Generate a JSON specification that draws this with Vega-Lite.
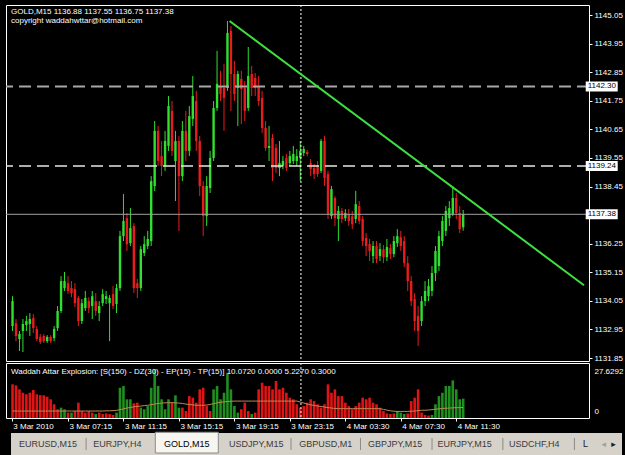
{
"$schema": "https://vega.github.io/schema/vega-lite/v6.json",
"background": "black",
"padding": {"left": 4, "top": 4, "right": 0, "bottom": 0},
"bounds": "flush",
"spacing": 2,
"config": {"view": {"stroke": null}, "font": "Liberation Sans",
  "axis": {"labelFont": "Liberation Sans", "labelFontSize": 8, "labelColor": "white", "tickColor": "white", "domain": false, "grid": false, "labelFlush": false, "labelOverlap": false, "labelBound": false}},
"datasets": {
"bars": [
{"i":0,"o":1133.08,"h":1134.23,"l":1132.89,"c":1134.04,"v":16.9,"t":"d","e":3.5},
{"i":1,"o":1133.19,"h":1133.35,"l":1132.50,"c":1132.70,"v":16.4,"t":"d","e":3.5},
{"i":2,"o":1132.58,"h":1132.89,"l":1132.12,"c":1132.77,"v":14.4,"t":"d","e":3.5},
{"i":3,"o":1132.89,"h":1133.35,"l":1132.08,"c":1133.16,"v":12.7,"t":"d","e":3.5},
{"i":4,"o":1133.12,"h":1133.47,"l":1132.89,"c":1133.27,"v":11.9,"t":"d","e":3.5},
{"i":5,"o":1133.16,"h":1133.58,"l":1132.70,"c":1133.35,"v":12.7,"t":"d","e":3.5},
{"i":6,"o":1133.39,"h":1133.54,"l":1132.81,"c":1133.00,"v":14.1,"t":"d","e":3.5},
{"i":7,"o":1132.97,"h":1133.08,"l":1132.50,"c":1132.58,"v":11.9,"t":"d","e":3.5},
{"i":8,"o":1132.66,"h":1132.77,"l":1132.39,"c":1132.47,"v":11.5,"t":"d","e":3.5},
{"i":9,"o":1132.70,"h":1132.77,"l":1132.43,"c":1132.50,"v":11.4,"t":"d","e":3.5},
{"i":10,"o":1132.50,"h":1132.73,"l":1132.43,"c":1132.66,"v":10.7,"t":"d","e":3.5},
{"i":11,"o":1132.66,"h":1132.73,"l":1132.43,"c":1132.50,"v":9.4,"t":"d","e":3.5},
{"i":12,"o":1132.62,"h":1133.08,"l":1132.50,"c":1132.97,"v":6.9,"t":"d","e":3.5},
{"i":13,"o":1133.00,"h":1133.85,"l":1132.89,"c":1133.66,"v":4.4,"t":"d","e":3.5},
{"i":14,"o":1133.66,"h":1135.00,"l":1133.58,"c":1134.81,"v":5.2,"t":"u","e":3.5},
{"i":15,"o":1134.54,"h":1135.16,"l":1134.43,"c":1134.81,"v":4.4,"t":"u","e":3.5},
{"i":16,"o":1134.73,"h":1135.00,"l":1134.31,"c":1134.43,"v":2.7,"t":"d","e":3.5},
{"i":17,"o":1134.54,"h":1134.81,"l":1134.19,"c":1134.35,"v":2.7,"t":"u","e":3.5},
{"i":18,"o":1134.50,"h":1134.73,"l":1133.81,"c":1133.96,"v":3.5,"t":"d","e":3.5},
{"i":19,"o":1134.16,"h":1134.23,"l":1133.08,"c":1133.27,"v":7.7,"t":"d","e":3.5},
{"i":20,"o":1133.27,"h":1134.12,"l":1133.16,"c":1133.96,"v":3.5,"t":"d","e":3.5},
{"i":21,"o":1133.77,"h":1134.43,"l":1133.66,"c":1134.16,"v":2.7,"t":"d","e":3.5},
{"i":22,"o":1134.04,"h":1134.19,"l":1133.58,"c":1133.77,"v":3.5,"t":"d","e":3.5},
{"i":23,"o":1133.85,"h":1134.43,"l":1133.35,"c":1134.23,"v":2.7,"t":"d","e":3.5},
{"i":24,"o":1134.04,"h":1134.35,"l":1133.47,"c":1133.66,"v":2.0,"t":"u","e":3.5},
{"i":25,"o":1133.58,"h":1134.04,"l":1133.27,"c":1133.85,"v":2.7,"t":"d","e":3.5},
{"i":26,"o":1133.96,"h":1134.50,"l":1133.85,"c":1134.31,"v":2.0,"t":"d","e":3.5},
{"i":27,"o":1134.12,"h":1134.43,"l":1133.93,"c":1134.23,"v":2.3,"t":"d","e":3.6},
{"i":28,"o":1133.96,"h":1134.27,"l":1132.50,"c":1134.16,"v":2.0,"t":"d","e":3.6},
{"i":29,"o":1134.31,"h":1134.62,"l":1133.73,"c":1133.85,"v":1.5,"t":"d","e":3.7},
{"i":30,"o":1133.93,"h":1134.70,"l":1133.58,"c":1134.54,"v":2.7,"t":"u","e":3.8},
{"i":31,"o":1134.54,"h":1136.74,"l":1134.43,"c":1136.54,"v":15.2,"t":"u","e":4.2},
{"i":32,"o":1136.54,"h":1138.16,"l":1136.35,"c":1137.12,"v":16.1,"t":"u","e":4.6},
{"i":33,"o":1137.23,"h":1137.43,"l":1135.97,"c":1136.23,"v":9.4,"t":"u","e":5.0},
{"i":34,"o":1136.27,"h":1137.62,"l":1136.16,"c":1136.85,"v":9.4,"t":"u","e":5.3},
{"i":35,"o":1136.93,"h":1137.04,"l":1134.35,"c":1134.54,"v":7.4,"t":"d","e":5.6},
{"i":36,"o":1134.73,"h":1134.89,"l":1134.16,"c":1134.54,"v":7.7,"t":"d","e":5.8},
{"i":37,"o":1134.54,"h":1136.16,"l":1134.43,"c":1136.04,"v":5.2,"t":"u","e":6.0},
{"i":38,"o":1135.89,"h":1136.54,"l":1135.77,"c":1136.23,"v":4.4,"t":"u","e":6.2},
{"i":39,"o":1136.16,"h":1136.74,"l":1136.04,"c":1136.43,"v":6.0,"t":"u","e":6.4},
{"i":40,"o":1136.35,"h":1138.85,"l":1136.16,"c":1138.66,"v":15.2,"t":"u","e":6.7},
{"i":41,"o":1138.47,"h":1140.97,"l":1138.28,"c":1140.59,"v":24.4,"t":"u","e":7.0},
{"i":42,"o":1140.59,"h":1140.78,"l":1139.24,"c":1139.43,"v":16.1,"t":"u","e":7.3},
{"i":43,"o":1139.62,"h":1140.20,"l":1138.85,"c":1139.24,"v":9.4,"t":"u","e":7.5},
{"i":44,"o":1139.24,"h":1140.59,"l":1139.05,"c":1140.20,"v":4.4,"t":"u","e":7.6},
{"i":45,"o":1140.01,"h":1141.93,"l":1139.82,"c":1141.55,"v":9.4,"t":"u","e":7.7},
{"i":46,"o":1141.36,"h":1141.74,"l":1139.62,"c":1139.82,"v":7.7,"t":"d","e":7.7},
{"i":47,"o":1139.43,"h":1140.59,"l":1137.89,"c":1140.20,"v":11.4,"t":"u","e":7.6},
{"i":48,"o":1140.20,"h":1140.39,"l":1136.74,"c":1138.85,"v":5.2,"t":"u","e":7.5},
{"i":49,"o":1138.85,"h":1140.97,"l":1138.66,"c":1140.59,"v":5.2,"t":"d","e":7.3},
{"i":50,"o":1140.59,"h":1141.36,"l":1139.43,"c":1139.82,"v":3.5,"t":"d","e":7.0},
{"i":51,"o":1139.82,"h":1141.55,"l":1139.62,"c":1141.16,"v":11.0,"t":"d","e":6.8},
{"i":52,"o":1141.05,"h":1142.70,"l":1140.78,"c":1141.93,"v":10.2,"t":"d","e":6.6},
{"i":53,"o":1141.74,"h":1142.13,"l":1139.82,"c":1140.20,"v":7.7,"t":"d","e":6.4},
{"i":54,"o":1140.20,"h":1140.39,"l":1138.08,"c":1138.47,"v":14.4,"t":"d","e":6.4},
{"i":55,"o":1138.47,"h":1138.66,"l":1136.54,"c":1137.31,"v":15.2,"t":"d","e":6.4},
{"i":56,"o":1137.31,"h":1138.85,"l":1136.93,"c":1138.47,"v":6.0,"t":"d","e":6.5},
{"i":57,"o":1138.39,"h":1139.82,"l":1138.20,"c":1139.55,"v":3.5,"t":"d","e":6.8},
{"i":58,"o":1139.55,"h":1141.74,"l":1139.43,"c":1141.47,"v":14.4,"t":"u","e":7.2},
{"i":59,"o":1141.47,"h":1143.67,"l":1141.36,"c":1142.40,"v":16.1,"t":"u","e":7.6},
{"i":60,"o":1142.32,"h":1142.90,"l":1141.74,"c":1142.01,"v":9.4,"t":"u","e":7.9},
{"i":61,"o":1142.24,"h":1143.16,"l":1140.59,"c":1141.86,"v":12.7,"t":"u","e":8.1},
{"i":62,"o":1142.24,"h":1144.82,"l":1142.13,"c":1144.36,"v":22.7,"t":"u","e":8.3},
{"i":63,"o":1144.44,"h":1144.63,"l":1141.36,"c":1142.78,"v":14.4,"t":"u","e":8.4},
{"i":64,"o":1142.78,"h":1143.28,"l":1141.74,"c":1142.01,"v":6.0,"t":"u","e":8.5},
{"i":65,"o":1142.24,"h":1142.90,"l":1140.78,"c":1142.78,"v":2.7,"t":"u","e":8.5},
{"i":66,"o":1142.59,"h":1142.90,"l":1140.85,"c":1142.20,"v":4.4,"t":"d","e":8.5},
{"i":67,"o":1142.24,"h":1142.51,"l":1140.97,"c":1141.36,"v":7.7,"t":"d","e":8.5},
{"i":68,"o":1141.47,"h":1143.82,"l":1141.36,"c":1142.70,"v":3.5,"t":"d","e":8.5},
{"i":69,"o":1142.78,"h":1143.09,"l":1141.93,"c":1142.24,"v":2.0,"t":"u","e":8.5},
{"i":70,"o":1142.63,"h":1142.82,"l":1141.93,"c":1142.24,"v":2.7,"t":"d","e":8.5},
{"i":71,"o":1142.32,"h":1142.70,"l":1141.55,"c":1141.74,"v":14.4,"t":"d","e":8.5},
{"i":72,"o":1141.86,"h":1142.13,"l":1140.51,"c":1140.70,"v":17.7,"t":"d","e":8.5},
{"i":73,"o":1140.70,"h":1140.97,"l":1139.82,"c":1139.93,"v":16.1,"t":"d","e":8.5},
{"i":74,"o":1139.93,"h":1140.78,"l":1139.43,"c":1140.01,"v":16.1,"t":"d","e":8.5},
{"i":75,"o":1140.32,"h":1140.47,"l":1138.66,"c":1139.16,"v":14.4,"t":"d","e":8.5},
{"i":76,"o":1139.93,"h":1140.09,"l":1138.97,"c":1139.16,"v":18.6,"t":"d","e":8.5},
{"i":77,"o":1139.16,"h":1140.20,"l":1138.85,"c":1139.35,"v":14.4,"t":"d","e":8.5},
{"i":78,"o":1139.24,"h":1139.62,"l":1139.12,"c":1139.43,"v":15.2,"t":"d","e":8.5},
{"i":79,"o":1139.55,"h":1139.70,"l":1139.05,"c":1139.16,"v":12.7,"t":"d","e":8.5},
{"i":80,"o":1139.35,"h":1139.82,"l":1139.24,"c":1139.62,"v":10.2,"t":"d","e":8.5},
{"i":81,"o":1139.43,"h":1140.01,"l":1139.32,"c":1139.70,"v":9.4,"t":"d","e":8.5},
{"i":82,"o":1139.43,"h":1139.89,"l":1139.24,"c":1139.62,"v":6.9,"t":"d","e":8.5},
{"i":83,"o":1139.55,"h":1140.20,"l":1138.66,"c":1139.82,"v":5.2,"t":"d","e":8.0},
{"i":84,"o":1139.74,"h":1140.01,"l":1139.62,"c":1139.89,"v":6.0,"t":"d","e":7.5},
{"i":85,"o":1139.78,"h":1139.86,"l":1139.62,"c":1139.70,"v":7.7,"t":"d","e":7.0},
{"i":86,"o":1139.35,"h":1139.51,"l":1138.85,"c":1139.12,"v":9.4,"t":"d","e":6.6},
{"i":87,"o":1139.16,"h":1139.32,"l":1138.74,"c":1138.93,"v":8.5,"t":"d","e":6.3},
{"i":88,"o":1139.24,"h":1139.43,"l":1138.82,"c":1138.93,"v":6.9,"t":"d","e":6.0},
{"i":89,"o":1139.05,"h":1140.28,"l":1138.97,"c":1140.20,"v":5.2,"t":"d","e":5.8},
{"i":90,"o":1140.20,"h":1140.39,"l":1138.47,"c":1138.78,"v":6.9,"t":"d","e":5.5},
{"i":91,"o":1138.93,"h":1139.05,"l":1137.20,"c":1137.39,"v":16.9,"t":"d","e":5.2},
{"i":92,"o":1137.31,"h":1138.47,"l":1137.20,"c":1138.35,"v":12.7,"t":"d","e":5.0},
{"i":93,"o":1138.01,"h":1138.08,"l":1136.93,"c":1137.23,"v":14.4,"t":"d","e":4.8},
{"i":94,"o":1137.20,"h":1137.70,"l":1136.35,"c":1137.51,"v":11.0,"t":"d","e":4.7},
{"i":95,"o":1137.51,"h":1137.62,"l":1137.04,"c":1137.20,"v":11.0,"t":"d","e":4.7},
{"i":96,"o":1137.23,"h":1137.58,"l":1137.12,"c":1137.43,"v":7.7,"t":"d","e":4.7},
{"i":97,"o":1137.39,"h":1137.58,"l":1136.93,"c":1137.12,"v":6.0,"t":"d","e":4.7},
{"i":98,"o":1137.31,"h":1137.51,"l":1136.81,"c":1137.00,"v":4.4,"t":"d","e":4.7},
{"i":99,"o":1137.20,"h":1138.28,"l":1137.04,"c":1137.77,"v":6.0,"t":"d","e":4.7},
{"i":100,"o":1137.70,"h":1137.89,"l":1137.00,"c":1137.12,"v":7.7,"t":"d","e":4.7},
{"i":101,"o":1137.20,"h":1137.31,"l":1136.16,"c":1136.35,"v":10.2,"t":"d","e":4.7},
{"i":102,"o":1136.47,"h":1136.66,"l":1135.77,"c":1136.16,"v":9.4,"t":"d","e":4.7},
{"i":103,"o":1136.24,"h":1136.43,"l":1135.58,"c":1135.97,"v":10.2,"t":"d","e":4.7},
{"i":104,"o":1135.77,"h":1136.35,"l":1135.50,"c":1136.16,"v":7.7,"t":"d","e":4.7},
{"i":105,"o":1136.16,"h":1136.35,"l":1135.50,"c":1135.66,"v":6.9,"t":"d","e":4.7},
{"i":106,"o":1135.77,"h":1136.27,"l":1135.58,"c":1136.04,"v":5.2,"t":"d","e":4.7},
{"i":107,"o":1136.04,"h":1136.20,"l":1135.50,"c":1135.73,"v":3.5,"t":"d","e":4.3},
{"i":108,"o":1135.73,"h":1136.43,"l":1135.58,"c":1136.12,"v":2.3,"t":"d","e":4.0},
{"i":109,"o":1136.08,"h":1136.24,"l":1135.66,"c":1135.85,"v":2.0,"t":"d","e":3.6},
{"i":110,"o":1135.85,"h":1136.54,"l":1135.73,"c":1136.35,"v":2.3,"t":"d","e":3.4},
{"i":111,"o":1136.27,"h":1136.81,"l":1136.12,"c":1136.54,"v":3.5,"t":"u","e":3.3},
{"i":112,"o":1136.50,"h":1136.74,"l":1135.97,"c":1136.16,"v":2.7,"t":"u","e":3.3},
{"i":113,"o":1136.35,"h":1136.54,"l":1135.35,"c":1135.50,"v":2.0,"t":"u","e":3.3},
{"i":114,"o":1135.50,"h":1135.77,"l":1134.43,"c":1134.81,"v":2.3,"t":"d","e":3.3},
{"i":115,"o":1134.81,"h":1135.00,"l":1133.85,"c":1134.04,"v":8.5,"t":"d","e":3.4},
{"i":116,"o":1134.12,"h":1134.35,"l":1132.89,"c":1133.27,"v":10.2,"t":"d","e":3.5},
{"i":117,"o":1133.47,"h":1133.85,"l":1132.31,"c":1132.89,"v":14.4,"t":"d","e":3.7},
{"i":118,"o":1133.27,"h":1134.23,"l":1133.08,"c":1134.04,"v":2.7,"t":"d","e":3.9},
{"i":119,"o":1134.04,"h":1134.81,"l":1133.85,"c":1134.43,"v":1.5,"t":"d","e":3.9},
{"i":120,"o":1134.23,"h":1134.89,"l":1134.04,"c":1134.62,"v":1.2,"t":"d","e":4.0},
{"i":121,"o":1134.43,"h":1135.39,"l":1134.23,"c":1135.12,"v":1.5,"t":"u","e":4.2},
{"i":122,"o":1135.12,"h":1136.16,"l":1134.81,"c":1135.97,"v":6.9,"t":"u","e":4.4},
{"i":123,"o":1135.39,"h":1136.74,"l":1135.20,"c":1136.54,"v":11.0,"t":"u","e":4.6},
{"i":124,"o":1136.35,"h":1137.31,"l":1136.16,"c":1137.12,"v":12.7,"t":"u","e":4.8},
{"i":125,"o":1136.74,"h":1137.70,"l":1136.54,"c":1137.51,"v":16.1,"t":"u","e":4.9},
{"i":126,"o":1137.23,"h":1137.89,"l":1136.93,"c":1137.62,"v":16.1,"t":"u","e":5.0},
{"i":127,"o":1137.39,"h":1138.47,"l":1137.31,"c":1138.01,"v":18.9,"t":"u","e":5.1},
{"i":128,"o":1138.01,"h":1138.20,"l":1137.20,"c":1137.43,"v":14.4,"t":"u","e":5.2},
{"i":129,"o":1137.43,"h":1137.70,"l":1136.66,"c":1136.81,"v":9.4,"t":"u","e":5.2},
{"i":130,"o":1136.88,"h":1137.55,"l":1136.75,"c":1137.38,"v":9.7,"t":"u","e":5.3}
],
"trend": [{"i": 62.6, "p": 1144.82}, {"i": 164.85, "p": 1134.65}],
"levels": [{"p": 1142.30, "label": "1142.30"}, {"p": 1139.24, "label": "1139.24"}, {"p": 1137.38, "label": "1137.38"}],
"cursor": [{"i": 83.2}],
"tabs": [
{"k": 0, "name": "EURUSD,M15", "a": false},
{"k": 1, "name": "EURJPY,H4", "a": false},
{"k": 2, "name": "GOLD,M15", "a": true},
{"k": 3, "name": "USDJPY,M15", "a": false},
{"k": 4, "name": "GBPUSD,M1", "a": false},
{"k": 5, "name": "GBPJPY,M15", "a": false},
{"k": 6, "name": "EURJPY,M15", "a": false},
{"k": 7, "name": "USDCHF,H4", "a": false}
],
"seps": [{"s": 0.55}, {"s": 3.5}, {"s": 4.5}, {"s": 5.53}, {"s": 6.55}, {"s": 7.58}],
"extra": [{"k": 7.7, "name": "L", "g": "a"}, {"k": 7.97, "name": "◂", "g": "b"}, {"k": 8.11, "name": "▸", "g": "a"}]
},
"vconcat": [
{
"width": 583, "height": 356,
"view": {"stroke": "white", "strokeWidth": 1},
"title": {"text": "GOLD,M15  1136.88 1137.55 1136.75 1137.38", "subtitle": "copyright waddahwttar@hotmail.com", "anchor": "start", "frame": "group", "offset": -20, "dx": 5, "color": "white", "subtitleColor": "white", "fontSize": 8, "subtitleFontSize": 8, "font": "Liberation Sans", "subtitleFont": "Liberation Sans", "fontWeight": "normal", "subtitlePadding": 1},
"layer": [
{"data": {"name": "bars"}, "mark": {"type": "rule", "strokeWidth": 1},
 "encoding": {
  "x": {"field": "i", "type": "quantitative", "scale": {"domain": [-0.44, 164.85], "nice": false, "zero": false}, "axis": null},
  "y": {"field": "l", "type": "quantitative", "title": null, "scale": {"domain": [1131.735, 1145.435], "nice": false, "zero": false},
        "axis": {"orient": "right", "values": [1131.85, 1132.95, 1134.05, 1135.15, 1136.25, 1138.45, 1139.55, 1140.65, 1141.75, 1142.85, 1143.95, 1145.05], "tickCount": 30, "format": ".2f", "tickSize": 3, "labelPadding": 2, "labelOverlap": false, "labelBound": false, "labelFlush": false}},
  "y2": {"field": "h"},
  "color": {"condition": {"test": "datum.c >= datum.o", "value": "#2fe02f"}, "value": "#e81c1c"}}},
{"data": {"name": "bars"}, "mark": {"type": "bar", "size": 2.4},
 "encoding": {
  "x": {"field": "i", "type": "quantitative"},
  "y": {"field": "o", "type": "quantitative", "title": null},
  "y2": {"field": "c"},
  "color": {"condition": {"test": "datum.c >= datum.o", "value": "#2fe02f"}, "value": "#e81c1c"}}},
{"data": {"values": [{"p": 1142.30}]}, "mark": {"type": "rule", "color": "#a8a8a8", "strokeWidth": 2, "strokeDash": [12, 6]},
 "encoding": {"y": {"field": "p", "type": "quantitative", "title": null}}},
{"data": {"values": [{"p": 1139.24}]}, "mark": {"type": "rule", "color": "#e8e8e8", "strokeWidth": 1.5, "strokeDash": [12, 6]},
 "encoding": {"y": {"field": "p", "type": "quantitative", "title": null}}},
{"data": {"values": [{"p": 1137.38}]}, "mark": {"type": "rule", "color": "#a0a0a0", "strokeWidth": 1},
 "encoding": {"y": {"field": "p", "type": "quantitative", "title": null}}},
{"data": {"name": "cursor"}, "mark": {"type": "rule", "color": "white", "strokeWidth": 1, "strokeDash": [2, 2]},
 "encoding": {"x": {"field": "i", "type": "quantitative"}}},
{"data": {"name": "trend"}, "mark": {"type": "line", "color": "#3ee03e", "strokeWidth": 2},
 "encoding": {"x": {"field": "i", "type": "quantitative"}, "y": {"field": "p", "type": "quantitative", "title": null}}},
{"data": {"name": "levels"}, "mark": {"type": "tick", "orient": "horizontal", "color": "white", "size": 32, "thickness": 10, "opacity": 1},
 "encoding": {"x": {"datum": 169.96, "type": "quantitative"}, "y": {"field": "p", "type": "quantitative", "title": null}}},
{"data": {"name": "levels"}, "mark": {"type": "text", "color": "black", "fontSize": 8, "align": "left", "baseline": "middle", "font": "Liberation Sans"},
 "encoding": {"x": {"datum": 165.9, "type": "quantitative"}, "y": {"field": "p", "type": "quantitative", "title": null}, "text": {"field": "label"}}}
]
},
{
"width": 583, "height": 55,
"view": {"stroke": "white", "strokeWidth": 1},
"title": {"text": "Waddah Attar Explosion: [S(150) - DZ(30) - EP(15) - TP(15)] 10.0720 0.0000 5.2270 0.3000", "anchor": "start", "frame": "group", "offset": -13, "dx": 5, "color": "white", "fontSize": 8, "font": "Liberation Sans", "fontWeight": "normal"},
"layer": [
{"data": {"name": "bars"}, "mark": {"type": "bar", "size": 2.6},
 "encoding": {
  "x": {"field": "i", "type": "quantitative", "title": null, "scale": {"domain": [-0.44, 164.85], "nice": false, "zero": false},
        "axis": {"orient": "bottom", "values": [-0.2, 16, 32, 48, 64, 80, 96, 112, 128], "tickCount": 30, "tickSize": 3, "labelAlign": "left", "labelBaseline": "top", "labelPadding": 1, "labelOffset": 1,
                 "labelExpr": "datum.value < 1 ? '3 Mar 2010' : datum.value < 20 ? '3 Mar 07:15' : datum.value < 40 ? '3 Mar 11:15' : datum.value < 56 ? '3 Mar 15:15' : datum.value < 72 ? '3 Mar 19:15' : datum.value < 88 ? '3 Mar 23:15' : datum.value < 104 ? '4 Mar 03:30' : datum.value < 120 ? '4 Mar 07:30' : '4 Mar 11:30'"}},
  "y": {"field": "v", "type": "quantitative", "title": null, "scale": {"domain": [0, 27.6292], "nice": false, "zero": true},
        "axis": {"orient": "right", "values": [0, 27.6292], "ticks": false, "labelPadding": 5, "labelExpr": "datum.value > 1 ? '27.6292' : '0'", "labelOffset": {"condition": {"test": "datum.value > 1", "value": 8}, "value": -7}}},
  "color": {"condition": {"test": "datum.t == 'u'", "value": "#1f8f1f"}, "value": "#e01414"}}},
{"data": {"name": "bars"}, "mark": {"type": "line", "color": "#c08a50", "strokeWidth": 1},
 "encoding": {"x": {"field": "i", "type": "quantitative"}, "y": {"field": "e", "type": "quantitative", "title": null}}},
{"data": {"name": "cursor"}, "mark": {"type": "rule", "color": "white", "strokeWidth": 1, "strokeDash": [2, 2]},
 "encoding": {"x": {"field": "i", "type": "quantitative"}}}
]
},
{
"width": 621, "height": 36,
"view": {"stroke": null},
"layer": [
{"data": {"values": [{"a": -0.531, "b": 8.265}]}, "mark": {"type": "rect", "color": "#d6d2ca"},
 "encoding": {"x": {"field": "a", "type": "quantitative", "scale": {"domain": [-0.531, 8.265], "nice": false, "zero": false}, "axis": null}, "x2": {"field": "b"},
  "y": {"datum": 0, "type": "quantitative", "scale": {"domain": [0, 1], "nice": false, "zero": false}, "axis": null}, "y2": {"datum": 0.639}}},
{"data": {"name": "tabs"}, "transform": [{"filter": "datum.a"}], "mark": {"type": "bar", "size": 63, "color": "#f6f5f0", "stroke": "#8a8a8a", "strokeWidth": 1},
 "encoding": {"x": {"field": "k", "type": "quantitative"},
  "y": {"datum": 0.083, "type": "quantitative"}, "y2": {"datum": 0.66}}},
{"data": {"name": "seps"}, "mark": {"type": "rule", "color": "#8a8a8a", "strokeWidth": 1},
 "encoding": {"x": {"field": "s", "type": "quantitative"}, "y": {"datum": 0.167, "type": "quantitative"}, "y2": {"datum": 0.5}}},
{"data": {"name": "tabs"}, "mark": {"type": "text", "fontSize": 9, "font": "Liberation Sans", "baseline": "middle", "align": "center"},
 "encoding": {"x": {"field": "k", "type": "quantitative"}, "y": {"datum": 0.333, "type": "quantitative"}, "text": {"field": "name"},
  "color": {"condition": {"test": "datum.a", "value": "#000000"}, "value": "#3a3a3a"}}},
{"data": {"name": "extra"}, "mark": {"type": "text", "fontSize": 9, "font": "DejaVu Sans", "baseline": "middle", "align": "left"},
 "encoding": {"x": {"field": "k", "type": "quantitative"}, "y": {"datum": 0.333, "type": "quantitative"}, "text": {"field": "name"},
  "color": {"condition": {"test": "datum.g == 'b'", "value": "#a0a0a0"}, "value": "#202020"}}}
]
}
]
}
